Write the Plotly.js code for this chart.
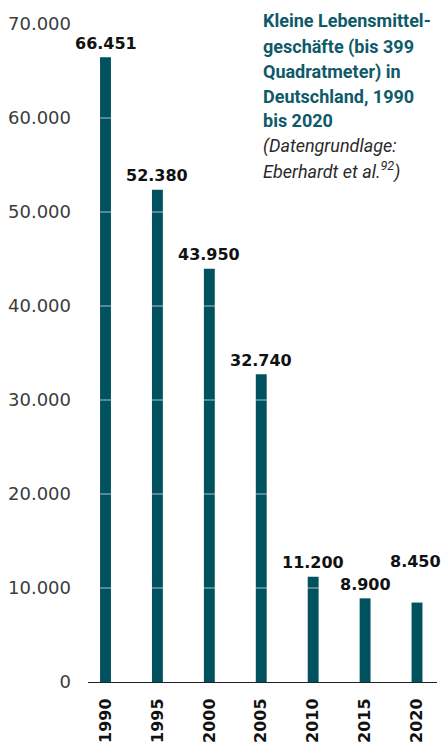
<!DOCTYPE html>
<html>
<head>
<meta charset="utf-8">
<script src="https://cdn.plot.ly/plotly-3.0.1.min.js"></script>
<style>html,body{margin:0;padding:0;background:#fff;}#chart{width:441px;height:744px;}</style>
</head>
<body>
<div id="chart"></div>
<script>
// ---- data ----
const years = ['1990', '1995', '2000', '2005', '2010', '2015', '2020'];
const shops = [66451, 52380, 43950, 32740, 11200, 8900, 8450];
const yTicks = [0, 10000, 20000, 30000, 40000, 50000, 60000, 70000];
const titleLines = ['Kleine Lebensmittel-', 'geschäfte (bis 399', 'Quadratmeter) in', 'Deutschland, 1990', 'bis 2020'];
const sourceLines = ['(Datengrundlage:', 'Eberhardt et al.<sup>92</sup>)'];

// ---- helpers ----
function de(n) { return String(n).replace(/\B(?=(\d{3})+(?!\d))/g, '.'); }

const BAR = '#01525f';
const TOP = 24; // plot top in px

const trace = {
  type: 'bar',
  x: years,
  y: shops,
  width: 0.21,
  marker: {color: BAR, line: {width: 0}},
  hoverinfo: 'none'
};

const annotations = years.map((yr, i) => ({
  x: i, y: shops[i], xref: 'x', yref: 'y',
  text: de(shops[i]), showarrow: false,
  yanchor: 'bottom', xanchor: 'center',
  yshift: i === years.length - 1 ? 30 : 2.5,
  xshift: i === years.length - 1 ? -2 : 0,
  font: {family: 'DejaVu Sans', size: 16, color: '#111', weight: 'bold'}
}));

const titleCenters = [20.7, 46.5, 71.5, 96, 120];
titleLines.forEach((t, i) => annotations.push({
  xref: 'paper', yref: 'paper', x: 0.497, y: 1,
  xanchor: 'left', yanchor: 'middle', align: 'left', showarrow: false,
  yshift: TOP - titleCenters[i],
  text: t,
  font: {family: 'Roboto', size: 18, color: '#0f5a69', weight: 'bold'}
}));
const sourceCenters = [146, 170.5];
sourceLines.forEach((t, i) => annotations.push({
  xref: 'paper', yref: 'paper', x: 0.497, y: 1,
  xanchor: 'left', yanchor: 'middle', align: 'left', showarrow: false,
  yshift: TOP - sourceCenters[i],
  text: t,
  font: {family: 'Roboto', size: 18, color: '#2a2a2a', style: 'italic'}
}));

const shapes = yTicks.filter(v => v > 0).map(v => ({
  type: 'line', xref: 'paper', yref: 'y', x0: 0, x1: 1, y0: v, y1: v,
  layer: 'above', line: {color: 'rgba(255,255,255,0.65)', width: 1}
}));

const layout = {
  width: 441, height: 744,
  margin: {l: 88, r: 4, t: TOP, b: 62},
  paper_bgcolor: '#fff', plot_bgcolor: '#fff',
  showlegend: false,
  xaxis: {
    type: 'category', range: [-0.337, 6.385],
    showline: true, linecolor: '#222', linewidth: 1,
    ticks: '', tickangle: -90, showgrid: false, zeroline: false,
    ticklabelstandoff: 9,
    tickfont: {family: 'DejaVu Sans', size: 16, color: '#111', weight: 'bold'},
    fixedrange: true
  },
  yaxis: {
    range: [0, 70000], tickvals: yTicks, ticktext: yTicks.map(de),
    showgrid: false, zeroline: false, showline: false, ticks: '',
    ticklabelstandoff: 16,
    tickfont: {family: 'DejaVu Sans', size: 18, color: '#3c3c3c'},
    fixedrange: true
  },
  annotations: annotations,
  shapes: shapes
};

Plotly.newPlot('chart', [trace], layout, {displayModeBar: false, staticPlot: true});
</script>
</body>
</html>
